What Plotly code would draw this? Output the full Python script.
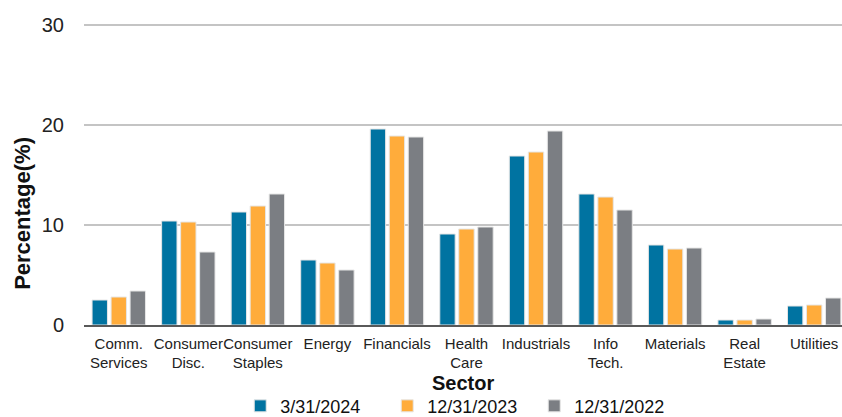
import plotly.graph_objects as go

categories = ["Comm.<br>Services", "Consumer<br>Disc.", "Consumer<br>Staples", "Energy",
              "Financials", "Health<br>Care", "Industrials", "Info<br>Tech.",
              "Materials", "Real<br>Estate", "Utilities"]
series_names = ["3/31/2024", "12/31/2023", "12/31/2022"]
v2024 = [2.5, 10.4, 11.3, 6.5, 19.6, 9.1, 16.9, 13.1, 8.0, 0.5, 1.9]
v2023 = [2.8, 10.3, 11.9, 6.2, 18.9, 9.6, 17.3, 12.8, 7.6, 0.5, 2.0]
v2022 = [3.4, 7.3, 13.1, 5.5, 18.8, 9.8, 19.4, 11.5, 7.7, 0.6, 2.7]
colors = ["#0073A1", "#FFAC3B", "#7B7E83"]
y_title = "<b>Percentage(%)</b>"
x_title = "<b>Sector</b>"

fig = go.Figure()
for name, vals, c in zip(series_names, [v2024, v2023, v2022], colors):
    fig.add_trace(go.Bar(x=categories, y=vals, name=name,
                         marker=dict(color=c, line=dict(color="#E6E6E6", width=1))))

fig.update_layout(
    width=842, height=417,
    margin=dict(l=84, r=0, t=22, b=92),
    paper_bgcolor="white", plot_bgcolor="white",
    font=dict(family="Liberation Sans, Arial, sans-serif", color="#222222"),
    barmode="group", bargap=0.18, bargroupgap=0.19,
    showlegend=True,
    legend=dict(orientation="h", xref="paper", x=0.497, xanchor="center",
                yref="container", y=0.026, yanchor="middle",
                font=dict(size=18, color="#111111"), itemwidth=30, entrywidth=102,
                tracegroupgap=0, bgcolor="rgba(0,0,0,0)"),
    annotations=[
        dict(text=y_title, textangle=-90, xref="paper", yref="paper",
             x=-0.0805, y=0.37, xanchor="center", yanchor="middle",
             showarrow=False, font=dict(size=22, color="#111111")),
        dict(text=x_title, xref="paper", yref="paper",
             x=0.5, y=-0.19, xanchor="center", yanchor="middle",
             showarrow=False, font=dict(size=20, color="#111111")),
    ],
)
fig.update_xaxes(
    range=[-0.5, 10.4], automargin=False, tickangle=0, ticklabelstandoff=4,
    tickfont=dict(size=15, color="#222222"),
    showline=True, linecolor="#595959", linewidth=1.5, ticks="",
)
fig.update_yaxes(
    range=[0, 30.3], tickvals=[0, 10, 20, 30], automargin=False,
    tickfont=dict(size=20, color="#222222"),
    showgrid=True, gridcolor="#C4C4C4", gridwidth=1.5,
    zeroline=False, ticks="", ticklabelstandoff=19,
)
fig.write_html("out.html", config={"displayModeBar": False},
               post_script="document.body.style.margin='0px';document.body.style.padding='0px';"
                           "document.documentElement.style.overflow='hidden';")
